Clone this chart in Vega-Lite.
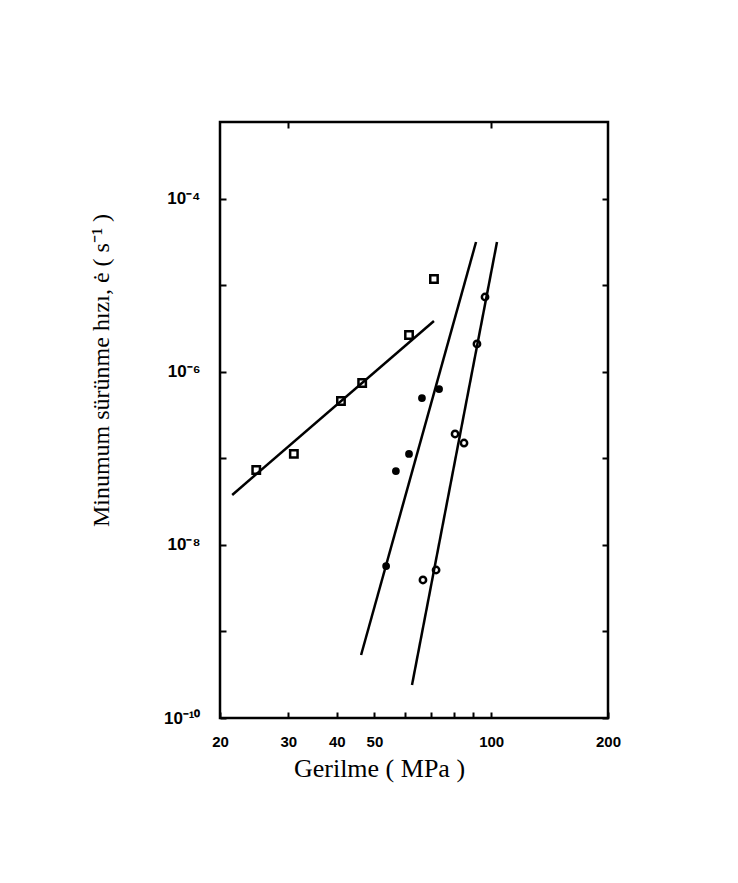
{
  "$schema": "https://vega.github.io/schema/vega-lite/v6.json",
  "width": 388,
  "height": 596,
  "autosize": {"type": "none"},
  "padding": {"left": 220, "top": 122, "right": 130, "bottom": 165},
  "background": "white",
  "config": {
    "view": {"stroke": "black", "strokeWidth": 2.5},
    "axis": {"grid": false, "domain": false, "tickColor": "black", "tickWidth": 2, "labelColor": "black", "titleColor": "black"}
  },
  "datasets": {
    "points": [
      {"series": "A", "stress": 24.8, "rate": 7.36e-8},
      {"series": "A", "stress": 31.0, "rate": 1.13e-7},
      {"series": "A", "stress": 41.0, "rate": 4.62e-7},
      {"series": "A", "stress": 46.5, "rate": 7.46e-7},
      {"series": "A", "stress": 61.4, "rate": 2.68e-6},
      {"series": "A", "stress": 71.2, "rate": 1.19e-5},
      {"series": "B", "stress": 53.6, "rate": 5.71e-9},
      {"series": "B", "stress": 56.8, "rate": 7.16e-8},
      {"series": "B", "stress": 61.4, "rate": 1.13e-7},
      {"series": "B", "stress": 66.3, "rate": 5.0e-7},
      {"series": "B", "stress": 73.4, "rate": 6.35e-7},
      {"series": "C", "stress": 66.7, "rate": 3.94e-9},
      {"series": "C", "stress": 72.1, "rate": 5.14e-9},
      {"series": "C", "stress": 80.7, "rate": 1.92e-7},
      {"series": "C", "stress": 85.1, "rate": 1.51e-7},
      {"series": "C", "stress": 91.9, "rate": 2.11e-6},
      {"series": "C", "stress": 96.4, "rate": 7.36e-6}
    ],
    "lines": [
      {"series": "A", "stress": 21.5, "rate": 3.79e-8},
      {"series": "A", "stress": 71.2, "rate": 3.89e-6},
      {"series": "B", "stress": 46.2, "rate": 5.35e-10},
      {"series": "B", "stress": 91.4, "rate": 3.18e-5},
      {"series": "C", "stress": 62.5, "rate": 2.41e-10},
      {"series": "C", "stress": 103.5, "rate": 3.18e-5}
    ]
  },
  "resolve": {"axis": {"x": "independent", "y": "independent"}},
  "layer": [
    {
      "data": {"name": "lines"},
      "mark": {"type": "line", "color": "black", "strokeWidth": 2.5},
      "encoding": {
        "x": {
          "field": "stress", "type": "quantitative",
          "scale": {"type": "log", "domain": [20, 200], "nice": false},
          "axis": {
            "orient": "bottom",
            "values": [20, 30, 40, 50, 60, 70, 80, 90, 100, 200],
            "labelExpr": "indexof([20,30,40,50,100,200], round(datum.value)) >= 0 ? datum.label : ''",
            "format": "d",
            "tickSize": -6,
            "labelPadding": 22,
            "labelFont": "Liberation Sans",
            "labelFontWeight": "bold",
            "labelFontSize": 15,
            "labelFlush": false,
            "labelOverlap": false,
            "title": "Gerilme ( MPa )",
            "titleFont": "Liberation Serif",
            "titleFontWeight": "normal",
            "titleFontSize": 26,
            "titleX": 159,
            "titleY": 50,
            "titleBaseline": "middle",
            "titleAlign": "center"
          }
        },
        "y": {
          "field": "rate", "type": "quantitative",
          "scale": {"type": "log", "domain": [1e-10, 7.76e-4], "nice": false},
          "axis": {
            "orient": "left",
            "values": [1e-10, 1e-9, 1e-8, 1e-7, 1e-6, 1e-5, 1e-4],
            "labelExpr": "round(log(datum.value)/LN10) == -4 ? '10⁻⁴' : round(log(datum.value)/LN10) == -6 ? '10⁻⁶' : round(log(datum.value)/LN10) == -8 ? '10⁻⁸' : round(log(datum.value)/LN10) == -10 ? '10⁻¹⁰' : ''",
            "tickSize": -6,
            "labelPadding": 26,
            "labelFont": "Liberation Sans",
            "labelFontWeight": "bold",
            "labelFontSize": 17,
            "labelFlush": false,
            "labelOverlap": false,
            "title": "Minumum sürünme hızı, ė ( s⁻¹ )",
            "titleFont": "Liberation Serif",
            "titleFontWeight": "normal",
            "titleFontSize": 24,
            "titleAngle": 270,
            "titleX": -119,
            "titleY": 248,
            "titleBaseline": "middle",
            "titleAlign": "center"
          }
        },
        "detail": {"field": "series"}
      }
    },
    {
      "data": {"name": "points"},
      "transform": [{"filter": "datum.series === 'A'"}],
      "mark": {"type": "point", "shape": "square", "filled": false, "color": "black", "opacity": 1, "strokeWidth": 2.5, "size": 55},
      "encoding": {
        "x": {"field": "stress", "type": "quantitative", "axis": {"orient": "top", "values": [30, 100], "labels": false, "tickSize": -6, "title": null}},
        "y": {"field": "rate", "type": "quantitative", "axis": {"orient": "right", "values": [1e-10, 1e-9, 1e-8, 1e-7, 1e-6, 1e-5, 1e-4], "labels": false, "tickSize": -6, "title": null}}
      }
    },
    {
      "data": {"name": "points"},
      "transform": [{"filter": "datum.series === 'B'"}],
      "mark": {"type": "point", "shape": "circle", "filled": true, "color": "black", "opacity": 1, "size": 60},
      "encoding": {
        "x": {"field": "stress", "type": "quantitative", "axis": null},
        "y": {"field": "rate", "type": "quantitative", "axis": null}
      }
    },
    {
      "data": {"name": "points"},
      "transform": [{"filter": "datum.series === 'C'"}],
      "mark": {"type": "point", "shape": "circle", "filled": false, "color": "black", "opacity": 1, "strokeWidth": 2.5, "size": 40},
      "encoding": {
        "x": {"field": "stress", "type": "quantitative", "axis": null},
        "y": {"field": "rate", "type": "quantitative", "axis": null}
      }
    }
  ]
}
